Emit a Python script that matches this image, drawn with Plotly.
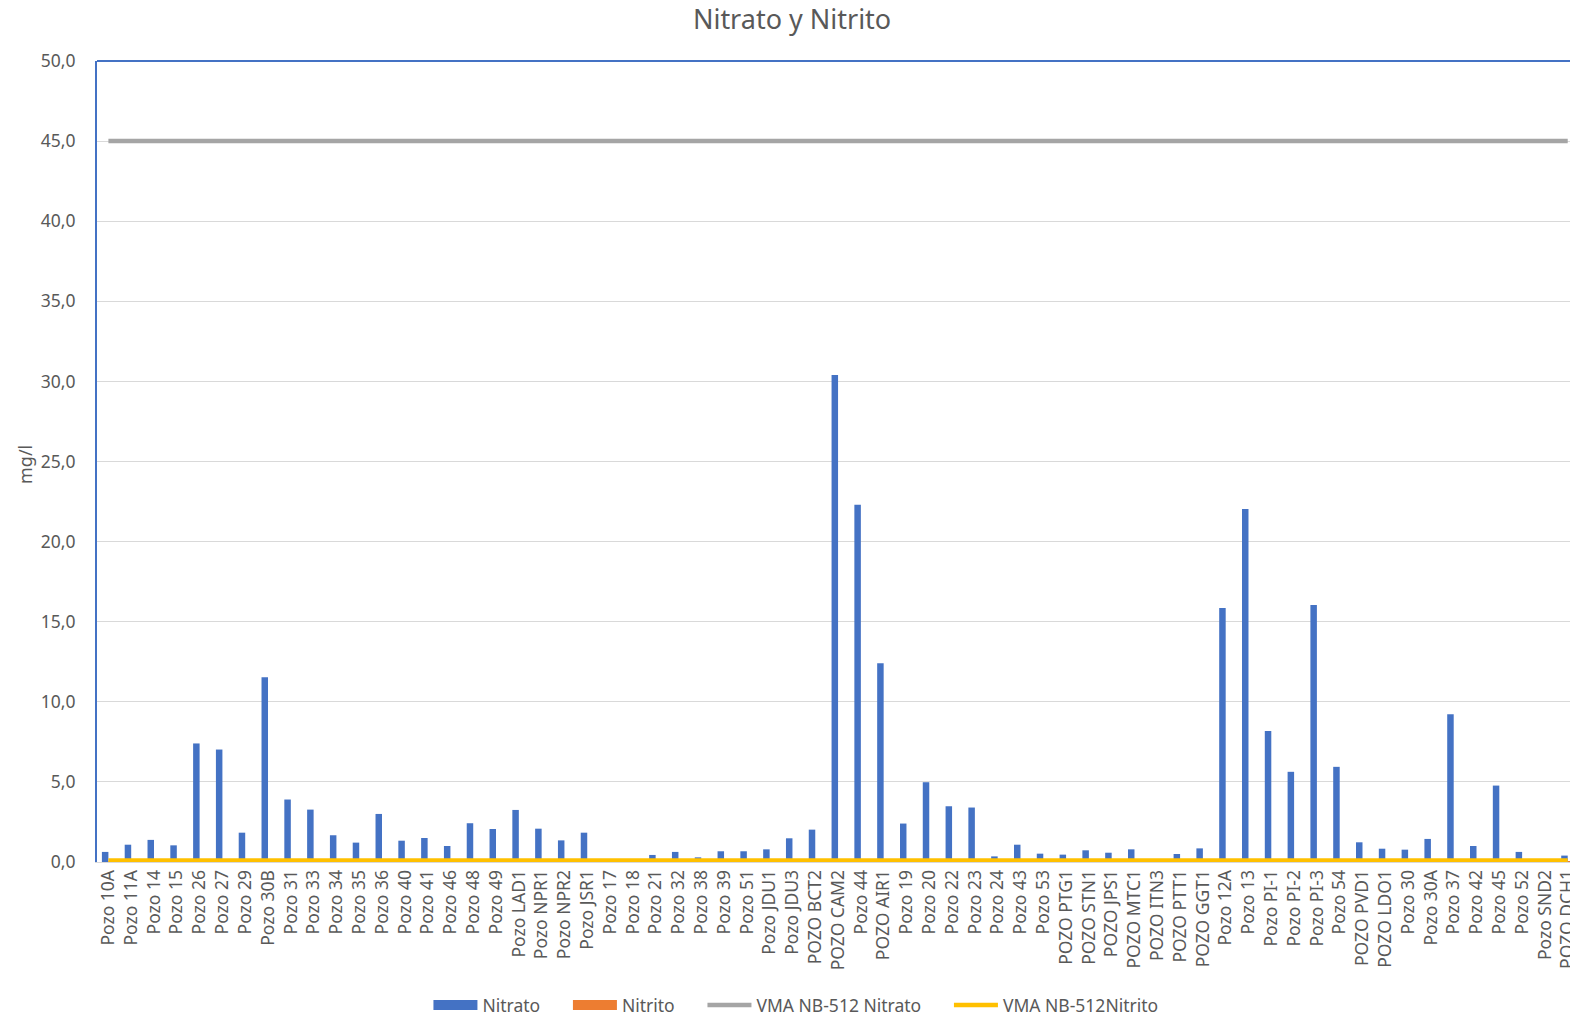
import plotly.graph_objects as go

categories = [
    "Pozo 10A", "Pozo 11A", "Pozo 14", "Pozo 15", "Pozo 26", "Pozo 27", "Pozo 29", "Pozo 30B",
    "Pozo 31", "Pozo 33", "Pozo 34", "Pozo 35", "Pozo 36", "Pozo 40", "Pozo 41", "Pozo 46",
    "Pozo 48", "Pozo 49", "Pozo LAD1", "Pozo NPR1", "Pozo NPR2", "Pozo JSR1",
    "Pozo 17", "Pozo 18", "Pozo 21", "Pozo 32", "Pozo 38", "Pozo 39", "Pozo 51", "Pozo JDU1",
    "Pozo JDU3", "POZO BCT2", "POZO CAM2", "Pozo 44", "POZO AIR1", "Pozo 19", "Pozo 20",
    "Pozo 22", "Pozo 23", "Pozo 24", "Pozo 43", "Pozo 53", "POZO PTG1", "POZO STN1", "POZO JPS1",
    "POZO MTC1", "POZO ITN3", "POZO PTT1", "POZO GGT1", "Pozo 12A", "Pozo 13", "Pozo PI-1",
    "Pozo PI-2", "Pozo PI-3", "Pozo 54", "POZO PVD1", "POZO LDO1", "Pozo 30", "Pozo 30A",
    "Pozo 37", "Pozo 42", "Pozo 45", "Pozo 52", "Pozo SND2", "POZO DCH1",
]

nitrato = [
    0.63, 1.08, 1.38, 1.04, 7.40, 7.02, 1.83, 11.54,
    3.90, 3.27, 1.67, 1.21, 3.00, 1.33, 1.50, 1.00,
    2.42, 2.06, 3.25, 2.08, 1.35, 1.83,
    0.0, 0.0, 0.44, 0.63, 0.29, 0.67, 0.67, 0.79,
    1.48, 2.02, 30.4, 22.3, 12.4, 2.40, 4.98,
    3.48, 3.40, 0.35, 1.08, 0.52, 0.46, 0.73, 0.58,
    0.79, 0.0, 0.50, 0.85, 15.86, 22.04, 8.17,
    5.63, 16.04, 5.94, 1.23, 0.83, 0.77, 1.44,
    9.23, 1.00, 4.77, 0.63, 0.0, 0.40,
]

nitrito = [
    0.01, 0.01, 0.01, 0.01, 0.01, 0.01, 0.01, 0.01,
    0.01, 0.01, 0.01, 0.01, 0.01, 0.01, 0.01, 0.01,
    0.01, 0.01, 0.01, 0.01, 0.01, 0.01,
    0.01, 0.01, 0.01, 0.01, 0.01, 0.01, 0.01, 0.01,
    0.01, 0.01, 0.01, 0.01, 0.01, 0.01, 0.01,
    0.01, 0.01, 0.01, 0.01, 0.01, 0.01, 0.01, 0.01,
    0.01, 0.01, 0.01, 0.01, 0.01, 0.01, 0.01,
    0.01, 0.01, 0.01, 0.01, 0.01, 0.01, 0.01,
    0.01, 0.01, 0.01, 0.01, 0.01, 0.01,
]

vma_nitrato = [45.0] * len(categories)
vma_nitrito = [0.1] * len(categories)

y_ticks = [0, 5, 10, 15, 20, 25, 30, 35, 40, 45, 50]

TEXT = "#595959"
FONT = "Noto Sans"
BLUE = "#4472C4"
ORANGE = "#ED7D31"
GRAY = "#A5A5A5"
YELLOW = "#FFC000"

fig = go.Figure()
fig.add_trace(go.Bar(x=categories, y=nitrato, name="Nitrato", marker_color=BLUE,
                     marker_line_width=0, showlegend=False, legendgroup="n3"))
fig.add_trace(go.Bar(x=categories, y=nitrito, name="Nitrito", marker_color=ORANGE,
                     marker_line_width=0, showlegend=False, legendgroup="n2"))
fig.add_trace(go.Scatter(x=categories, y=vma_nitrato, name="VMA NB-512 Nitrato", mode="lines",
                         line=dict(color=GRAY, width=4.5), showlegend=False, legendgroup="v3"))
fig.add_trace(go.Scatter(x=categories, y=vma_nitrito, name="VMA NB-512Nitrito", mode="lines",
                         line=dict(color=YELLOW, width=4.5), showlegend=False, legendgroup="v2"))

# legend entries (rectangular swatches like the original)
PAD = "\u00a0" * 5
legend_items = [("Nitrato" + PAD, BLUE, 13, "n3"), ("Nitrito" + PAD, ORANGE, 13, "n2"),
                ("VMA NB-512 Nitrato" + PAD, GRAY, 4.5, "v3"), ("VMA NB-512Nitrito", YELLOW, 4.5, "v2")]
for name, color, w, grp in legend_items:
    fig.add_trace(go.Scatter(x=[None], y=[None], name=name, mode="lines",
                             line=dict(color=color, width=w), legendgroup=grp,
                             showlegend=True, hoverinfo="skip"))

fig.update_layout(
    width=1570, height=1021,
    margin=dict(l=97, r=0, t=61, b=159, autoexpand=False),
    paper_bgcolor="white", plot_bgcolor="white",
    separators=",.",
    font=dict(family=FONT, color=TEXT, size=15),
    title=dict(text="Nitrato y Nitrito", x=0.5045, xref="container", xanchor="center",
               y=0.981, yanchor="middle", font=dict(size=27, color=TEXT, family=FONT)),
    barmode="group", bargap=0.43, bargroupgap=0,
    showlegend=True,
    legend=dict(orientation="h", x=0.4745, xanchor="center", y=-0.1786, yanchor="middle",
                font=dict(size=17.5, color=TEXT, family=FONT), traceorder="normal",
                itemwidth=44),
    shapes=[dict(type="line", xref="paper", yref="paper", x0=0, x1=1, y0=1, y1=1,
                 line=dict(color=BLUE, width=2))],
    annotations=[dict(text="mg/l", xref="paper", yref="paper", x=(25 - 97) / 1473,
                      y=(862 - 465) / 801, xanchor="center", yanchor="middle",
                      textangle=-90, showarrow=False,
                      font=dict(size=18, color=TEXT, family=FONT))],
)

fig.update_xaxes(
    type="category", range=[-0.5, 64.1], automargin=False,
    tickangle=-90, tickfont=dict(size=17.5, color=TEXT, family=FONT),
    showline=True, linecolor="#D9D9D9", linewidth=1,
    showgrid=False, ticks="", fixedrange=True,
)
fig.update_yaxes(
    range=[0, 50], tickvals=y_ticks, tickformat=".1f", automargin=False,
    tickfont=dict(size=17.5, color=TEXT, family=FONT),
    showgrid=True, gridcolor="#D9D9D9", gridwidth=1,
    showline=True, linecolor=BLUE, linewidth=2,
    zeroline=False, ticks="", ticklabelstandoff=16,
)

fig.write_html("out.html")
